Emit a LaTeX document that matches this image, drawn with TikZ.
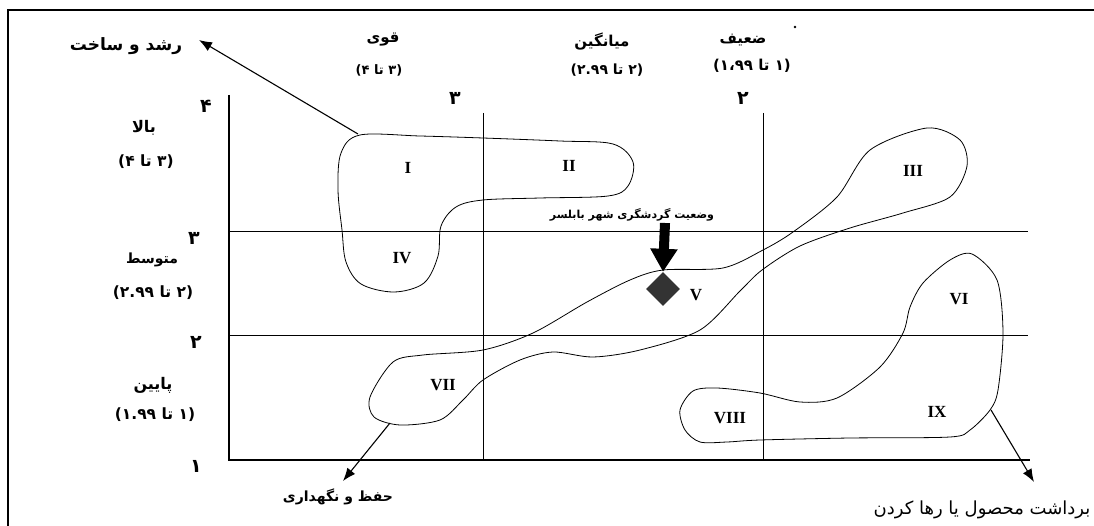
\documentclass[tikz,border=0pt]{standalone}
\usepackage{fontspec}
\TeXXeTstate=1
\newfontfamily\fa[Script=Arabic]{DejaVu Sans}
\newfontfamily\rom{Liberation Serif}
\usetikzlibrary{arrows.meta,shapes.geometric}
\tikzset{
  frameline/.style={line width=2.2pt},
  axisline/.style={line width=1.8pt},
  gridline/.style={line width=0.7pt},
  blob/.style={line width=0.8pt},
  lbl/.style={inner sep=1pt,font=\fa\bfseries\fontsize{#1}{#1}\selectfont},
  lbl/.default=15,
  biglbl/.style={inner sep=1pt,font=\fa\fontsize{18}{20}\selectfont},
  tick/.style={inner sep=1pt,font=\fa\bfseries\fontsize{19}{21}\selectfont},
  roman/.style={inner sep=1pt,font=\rom\bfseries\fontsize{17}{19}\selectfont},
  arr/.style={-{Latex[length=13pt,width=10pt]},line width=1.1pt},
}
\begin{document}
\begin{tikzpicture}[x=1pt,y=-1pt]
\useasboundingbox (0,0) rectangle (1094,526);
% frame
\draw[frameline] (8,526) -- (8,10) -- (1094,10);
% grid
\draw[gridline] (229,231) -- (1028,231);
\draw[gridline] (229,335) -- (1028,335);
\draw[gridline] (483,113) -- (483,460);
\draw[gridline] (763,113) -- (763,460);
% axes
\draw[axisline] (229,95) -- (229,460) -- (1030,460);
% blobs
\draw[blob] plot[smooth cycle,tension=0.55] coordinates {
 (360,135) (420,136) (483,138) (560,141) (613,144) (633,162) (628,186) (608,196)
 (540,198) (483,200) (456,207) (441,226) (438,256) (424,283) (394,292) (361,284)
 (346,262) (342,230) (338,190) (341,153)};
\draw[blob] plot[smooth cycle,tension=0.5] coordinates {
 (423,355) (483,350) (533,333) (587,302) (630,280) (663,270) (723,268) (763,250)
 (793,232) (837,197) (870,150) (927,128) (960,140) (967,166) (950,197) (903,213)
 (850,228) (800,246) (762,270) (740,291) (700,330) (640,350) (593,357) (553,352)
 (520,360) (483,380) (463,400) (440,420) (400,425) (374,417) (370,397) (393,362)};
\draw[blob] plot[smooth cycle,tension=0.5] coordinates {
 (972,254) (997,280) (1003,333) (998,390) (990,410) (970,430) (950,437) (850,438)
 (760,440) (727,442) (700,442) (685,430) (680,410) (693,391) (717,388) (760,393)
 (800,402) (837,398) (880,367) (903,333) (910,307) (923,283) (950,260)};
% roman labels
\node[roman] (r1) at (408,168) {I};
\node[roman] (r2) at (569,166) {II};
\node[roman] (r3) at (913,171) {III};
\node[roman] (r4) at (402,258) {IV};
\node[roman] (r5) at (696,295) {V};
\node[roman] (r6) at (959,299) {VI};
\node[roman] (r7) at (443,385) {VII};
\node[roman] (r8) at (730,418) {VIII};
\node[roman] (r9) at (937,412) {IX};
% ticks
\node[tick] (y4) at (206,106) {\beginR ۴\endR};
\node[tick] (y3) at (194,238) {\beginR ۳\endR};
\node[tick] (y2) at (196,342) {\beginR ۲\endR};
\node[tick] (y1) at (196,466) {\beginR ۱\endR};
\node[tick] (x3) at (455,98) {\beginR ۳\endR};
\node[tick] (x2) at (743,98) {\beginR ۲\endR};
% column headings
\node[lbl] (strong) at (383,40) {\beginR قوی\endR};
\node[lbl=13] (strongr) at (379,70) {\beginR (۳ تا ۴)\endR};
\node[lbl] (avg) at (602,42) {\beginR میانگین\endR};
\node[lbl=14] (avgr) at (607,70) {\beginR (۲ تا ۲.۹۹)\endR};
\node[lbl] (weak) at (743,40) {\beginR ضعیف\endR};
\node[lbl=15] (weakr) at (752,66) {\beginR (۱ تا ۱،۹۹)\endR};
\fill (795,27) circle (1.3);
% row headings
\node[lbl=16] (high) at (144,128) {\beginR بالا\endR};
\node[lbl=15.5] (highr) at (146,162) {\beginR (۳ تا ۴)\endR};
\node[lbl=14] (mid) at (152,260) {\beginR متوسط\endR};
\node[lbl=15.5] (midr) at (153,293) {\beginR (۲ تا ۲.۹۹)\endR};
\node[lbl=16] (low) at (153,385) {\beginR پایین\endR};
\node[lbl=15.5] (lowr) at (155,415) {\beginR (۱ تا ۱.۹۹)\endR};
% strategy labels and arrows
\node[lbl=17] (grow) at (126,46) {\beginR رشد و ساخت\endR};
\node[lbl=14] (keep) at (338,497) {\beginR حفظ و نگهداری\endR};
\node[biglbl] (harvest) at (982,510) {\beginR برداشت محصول یا رها کردن\endR};
\coordinate (gs) at (358,134);
\coordinate (gt) at (199,40);
\coordinate (ks) at (390,423);
\coordinate (kt) at (343,481);
\coordinate (hs) at (991,410);
\coordinate (ht) at (1034,482);
\draw[arr] (gs) -- (gt);
\draw[arr] (ks) -- (kt);
\draw[arr] (hs) -- (ht);
% current state
\node[lbl=11] (state) at (632,215) {\beginR وضعیت گردشگری شهر بابلسر\endR};
\node[diamond,fill=black!80,draw=none,minimum size=34pt,inner sep=0pt] (pos) at (663,289) {};
\draw[line width=10pt,-{Triangle[length=23pt,width=26pt]}] (665,223) -- (pos.north);
\end{tikzpicture}
\end{document}
